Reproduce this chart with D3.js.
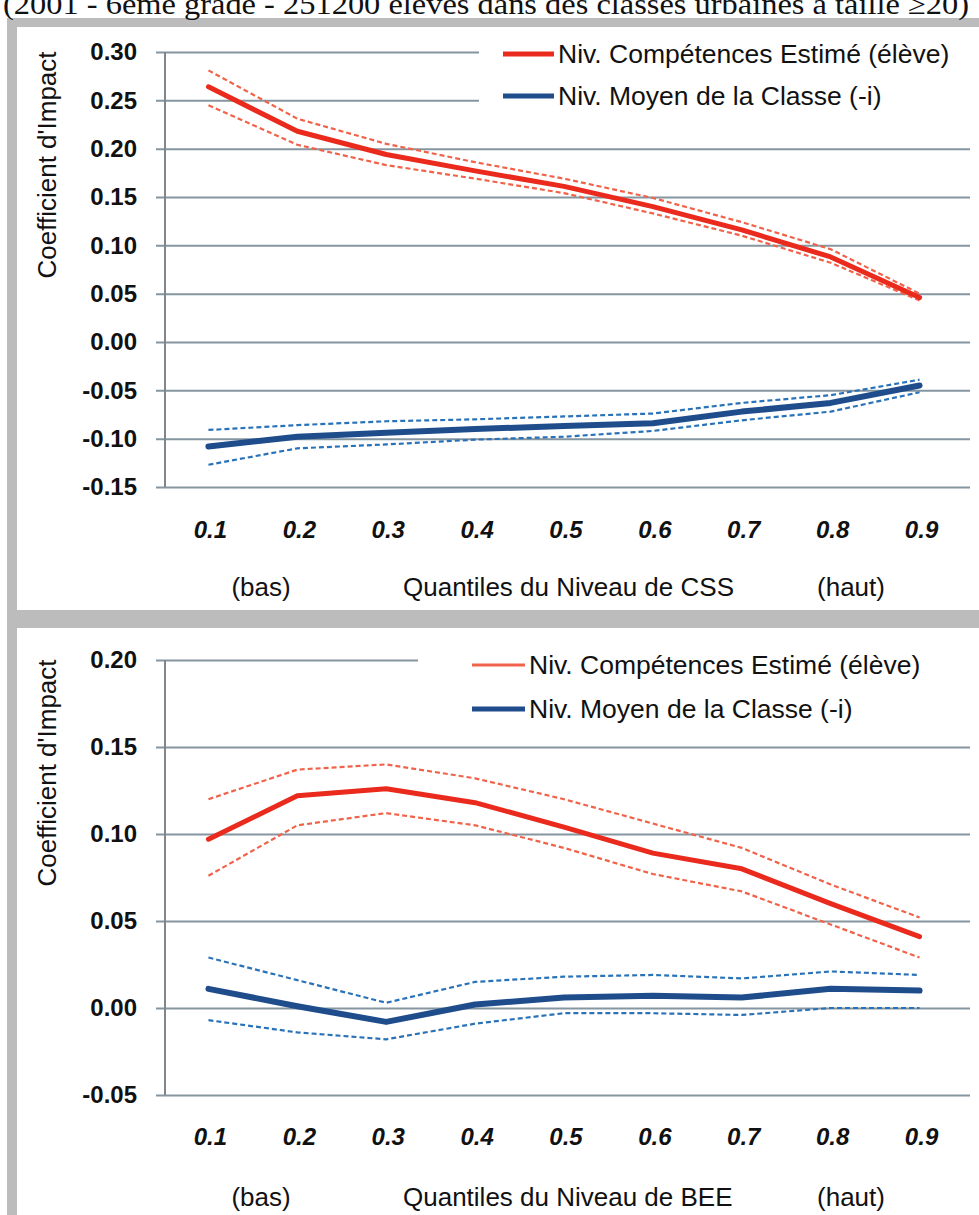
<!DOCTYPE html>
<html>
<head>
<meta charset="utf-8">
<script src="https://cdn.jsdelivr.net/npm/d3@7/dist/d3.min.js"></script>
<style>
  body { margin: 0; background: #fff; }
  svg { display: block; }
  text { font-family: "Liberation Sans", Arial, sans-serif; fill: #111; }
</style>
</head>
<body>
<div id="chart"></div>
<script>
// Quantiles on the x axis
const quantiles = ['0.1', '0.2', '0.3', '0.4', '0.5', '0.6', '0.7', '0.8', '0.9'];

// Top panel: quantiles of CSS level
const cssEleve   = [0.264, 0.218, 0.194, 0.177, 0.161, 0.140, 0.116, 0.088, 0.046];
const cssEleveHi = [0.281, 0.231, 0.205, 0.186, 0.169, 0.149, 0.124, 0.096, 0.050];
const cssEleveLo = [0.245, 0.204, 0.183, 0.169, 0.154, 0.133, 0.110, 0.082, 0.043];
const cssClasse   = [-0.108, -0.098, -0.094, -0.090, -0.087, -0.084, -0.072, -0.063, -0.045];
const cssClasseHi = [-0.091, -0.086, -0.082, -0.080, -0.077, -0.074, -0.063, -0.055, -0.039];
const cssClasseLo = [-0.127, -0.110, -0.106, -0.101, -0.098, -0.092, -0.081, -0.072, -0.052];
const cssTicks = [0.30, 0.25, 0.20, 0.15, 0.10, 0.05, 0.00, -0.05, -0.10, -0.15];

// Bottom panel: quantiles of BEE level
const beeEleve   = [0.097, 0.122, 0.126, 0.118, 0.104, 0.089, 0.080, 0.060, 0.041];
const beeEleveHi = [0.120, 0.137, 0.140, 0.132, 0.120, 0.106, 0.092, 0.071, 0.052];
const beeEleveLo = [0.076, 0.105, 0.112, 0.105, 0.092, 0.077, 0.067, 0.048, 0.029];
const beeClasse   = [0.011, 0.001, -0.008, 0.002, 0.006, 0.007, 0.006, 0.011, 0.010];
const beeClasseHi = [0.029, 0.016, 0.003, 0.015, 0.018, 0.019, 0.017, 0.021, 0.019];
const beeClasseLo = [-0.007, -0.014, -0.018, -0.009, -0.003, -0.003, -0.004, 0.000, 0.000];
const beeTicks = [0.20, 0.15, 0.10, 0.05, 0.00, -0.05];

const legendLabels = ['Niv. Compétences Estimé (élève)', 'Niv. Moyen de la Classe (-i)'];
const yTitle = "Coefficient d'Impact";
const caption = '(2001 - 6ème grade - 251200 élèves dans des classes urbaines à taille ≥20)';

const W = 979, H = 1215;
const red = '#e92a1d', redCI = '#f0634a', blue = '#1f4d8c', blueCI = '#2a72b8';
const gridColor = '#8596a0';

const svg = d3.select('#chart').append('svg')
    .attr('width', W)
    .attr('height', H);

// Grey frame around both panels
svg.append('rect').attr('x', 7).attr('y', 18).attr('width', W - 7).attr('height', H - 18).attr('fill', '#bcbcbc');
svg.append('rect').attr('x', 17).attr('y', 27).attr('width', W - 17).attr('height', 583).attr('fill', '#fff');
svg.append('rect').attr('x', 17).attr('y', 628).attr('width', W - 17).attr('height', H - 628).attr('fill', '#fff');

// Caption, cropped at the very top like the scan
svg.append('text')
    .attr('x', 3)
    .attr('y', 14)
    .attr('textLength', 966)
    .attr('lengthAdjust', 'spacingAndGlyphs')
    .style('font-family', '"Liberation Serif", "Times New Roman", serif')
    .style('font-size', '29px')
    .text(caption);

const panels = [
    {
        domain: [-0.15, 0.30], yRange: [487, 52], ticks: cssTicks,
        eleve: cssEleve, eleveHi: cssEleveHi, eleveLo: cssEleveLo,
        classe: cssClasse, classeHi: cssClasseHi, classeLo: cssClasseLo,
        xLabel: 'Quantiles du Niveau de CSS',
        tickY: 530, subY: 587, titleY: 165,
        legendX: 479, legendY: [54, 96], sampleX: [503, 554], legendBox: [32, 122],
        legendRedW: 5, legendRedColor: red
    },
    {
        domain: [-0.05, 0.20], yRange: [1095, 660], ticks: beeTicks,
        eleve: beeEleve, eleveHi: beeEleveHi, eleveLo: beeEleveLo,
        classe: beeClasse, classeHi: beeClasseHi, classeLo: beeClasseLo,
        xLabel: 'Quantiles du Niveau de BEE',
        tickY: 1137, subY: 1197, titleY: 773,
        legendX: 418, legendY: [665, 709], sampleX: [472, 525], legendBox: [638, 730],
        legendRedW: 3, legendRedColor: redCI
    }
];

const axisX = 165, gridLeft = 156, gridRight = 970;

const x = d3.scalePoint()
    .domain(quantiles)
    .range([164, 964])
    .padding(0.5);

panels.forEach(p => {
    const y = d3.scaleLinear().domain(p.domain).range(p.yRange);
    const g = svg.append('g');

    // Gridlines + y tick labels
    const yAxis = d3.axisLeft(y)
        .tickValues(p.ticks)
        .tickSizeInner(-(gridRight - gridLeft))
        .tickSizeOuter(0)
        .tickPadding(19)
        .tickFormat(d => d3.format('.2f')(d).replace('−', '-'));

    const ax = g.append('g')
        .attr('transform', `translate(${gridLeft},0)`)
        .call(yAxis);
    ax.select('.domain').remove();
    ax.selectAll('.tick line').attr('stroke', gridColor).attr('stroke-width', 2);
    ax.selectAll('.tick text')
        .style('font-size', '24px')
        .style('font-weight', 'bold')
        .attr('fill', '#111');

    // Legend background hides the gridlines behind it
    g.append('rect')
        .attr('x', p.legendX)
        .attr('y', p.legendBox[0])
        .attr('width', W - p.legendX)
        .attr('height', p.legendBox[1] - p.legendBox[0])
        .attr('fill', '#fff');

    // Vertical axis line
    g.append('line')
        .attr('x1', axisX).attr('x2', axisX)
        .attr('y1', p.yRange[1]).attr('y2', p.yRange[0])
        .attr('stroke', '#7d878c')
        .attr('stroke-width', 2);

    // Series
    const line = d3.line()
        .x((d, i) => x(quantiles[i]))
        .y(d => y(d));

    const series = [
        { values: p.eleveHi, color: redCI, width: 2.2, dash: '5,3' },
        { values: p.eleveLo, color: redCI, width: 2.2, dash: '5,3' },
        { values: p.classeHi, color: blueCI, width: 2.2, dash: '5,3' },
        { values: p.classeLo, color: blueCI, width: 2.2, dash: '5,3' },
        { values: p.eleve, color: red, width: 5, dash: null },
        { values: p.classe, color: blue, width: 6, dash: null }
    ];

    g.selectAll('path.series')
        .data(series)
        .enter().append('path')
        .attr('class', 'series')
        .attr('d', d => line(d.values))
        .attr('fill', 'none')
        .attr('stroke', d => d.color)
        .attr('stroke-width', d => d.width)
        .attr('stroke-dasharray', d => d.dash)
        .attr('stroke-linejoin', 'round')
        .attr('stroke-linecap', d => d.dash ? 'butt' : 'round');

    // X tick labels
    g.selectAll('text.xtick')
        .data(quantiles)
        .enter().append('text')
        .attr('class', 'xtick')
        .attr('x', d => x(d) + 2)
        .attr('y', p.tickY)
        .attr('dy', '0.35em')
        .attr('text-anchor', 'middle')
        .style('font-size', '24px')
        .style('font-weight', 'bold')
        .style('font-style', 'italic')
        .text(d => d);

    // Axis subtitle row
    const sub = [
        { text: '(bas)', x: 261, anchor: 'middle' },
        { text: p.xLabel, x: 403, anchor: 'start' },
        { text: '(haut)', x: 851, anchor: 'middle' }
    ];
    g.selectAll('text.sub')
        .data(sub)
        .enter().append('text')
        .attr('class', 'sub')
        .attr('x', d => d.x)
        .attr('y', p.subY)
        .attr('dy', '0.35em')
        .attr('text-anchor', d => d.anchor)
        .style('font-size', '26px')
        .text(d => d.text);

    // Y axis title
    g.append('text')
        .attr('transform', `translate(47,${p.titleY}) rotate(-90)`)
        .attr('text-anchor', 'middle')
        .attr('dy', '0.35em')
        .style('font-size', '26px')
        .text(yTitle);

    // Legend
    const legend = [
        { label: legendLabels[0], color: p.legendRedColor, width: p.legendRedW },
        { label: legendLabels[1], color: blue, width: 5 }
    ];
    legend.forEach((l, i) => {
        g.append('line')
            .attr('x1', p.sampleX[0]).attr('x2', p.sampleX[1])
            .attr('y1', p.legendY[i]).attr('y2', p.legendY[i])
            .attr('stroke', l.color)
            .attr('stroke-width', l.width);
        g.append('text')
            .attr('x', p.sampleX[1] + 4)
            .attr('y', p.legendY[i])
            .attr('dy', '0.35em')
            .style('font-size', '26.5px')
            .text(l.label);
    });
});
</script>
</body>
</html>
